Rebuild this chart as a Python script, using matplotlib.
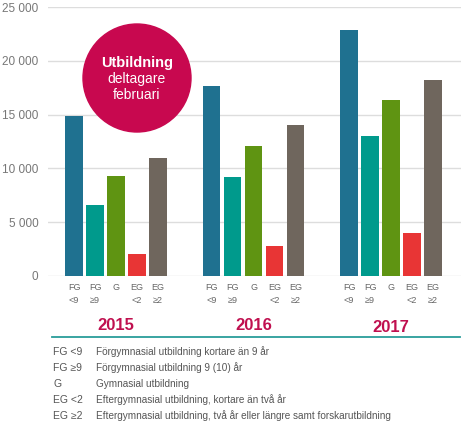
import numpy as np
import matplotlib
matplotlib.use("Agg")
import matplotlib.pyplot as plt
from matplotlib.patches import Ellipse
from matplotlib.lines import Line2D
from matplotlib.transforms import blended_transform_factory

plt.rcParams['font.family'] = ['Liberation Sans', 'DejaVu Sans']

years = ["2015", "2016", "2017"]
categories = ["FG <9", "FG ≥9", "G", "EG <2", "EG ≥2"]
tick_labels = ["FG\n<9", "FG\n≥9", "G\n", "EG\n<2", "EG\n≥2"]
descriptions = [
    "Förgymnasial utbildning kortare än 9 år",
    "Förgymnasial utbildning 9 (10) år",
    "Gymnasial utbildning",
    "Eftergymnasial utbildning, kortare än två år",
    "Eftergymnasial utbildning, två år eller längre samt forskarutbildning",
]
values_2015 = [14900, 6600, 9300, 2000, 10950]
values_2016 = [17650, 9200, 12050, 2750, 14000]
values_2017 = [22850, 13000, 16350, 4000, 18200]
colors = ["#1f7190", "#009a8c", "#5f9412", "#e83535", "#6f665d"]

W, H = 463, 425
fig = plt.figure(figsize=(W / 100, H / 100), dpi=100)
ax = fig.add_axes([48 / W, (H - 276) / H, (461 - 48) / W, (276 - 7) / H])

group_gap = 6.55
xs_all, labels_all = [], []
for gi, vals in enumerate([values_2015, values_2016, values_2017]):
    xs = gi * group_gap + np.arange(5) - 2
    ax.bar(xs, vals, width=0.84, color=colors, zorder=3)
    xs_all.extend(xs)
    labels_all.extend(tick_labels)

ax.set_xlim(-3.24, 16.43)
ax.set_ylim(0, 25000)
ax.set_yticks(np.arange(0, 25001, 5000))
ax.set_yticklabels([f"{v:,}".replace(",", " ") for v in range(0, 25001, 5000)],
                   fontsize=8.5, color="#777777")
ax.set_xticks(xs_all)
ax.set_xticklabels(labels_all, fontsize=6.5, color="#666666", linespacing=1.6)
ax.tick_params(axis="both", length=0)
ax.tick_params(axis="y", pad=7)
ax.tick_params(axis="x", pad=5)
ax.grid(axis="y", color="#dddddd", linewidth=1, zorder=0)
for s in ax.spines.values():
    s.set_visible(False)

# year labels
tr = blended_transform_factory(ax.transData, fig.transFigure)
for gi, y in enumerate(years):
    ypix = 327 if gi == 2 else 325
    ax.text(gi * group_gap, 1 - ypix / H, y, transform=tr, ha="center", va="center",
            fontsize=12, fontweight="bold", color="#c0104f")

# separator line
fig.add_artist(Line2D([52 / W, 460 / W], [1 - 337 / H, 1 - 337 / H],
                      color="#2a9d9a", linewidth=1.3))

# legend rows
row_y = [352, 368, 384, 400, 416]
for ab, desc, y in zip(categories, descriptions, row_y):
    fig.text(53 / W, 1 - y / H, ab, fontsize=7.5, color="#555555", va="center")
    fig.text(96 / W, 1 - y / H, desc, fontsize=7.2, color="#555555", va="center")

# circle badge
cx, cy, r = 137, 78, 54
fig.add_artist(Ellipse((cx / W, 1 - cy / H), 2 * r / W, 2 * r / H,
                       transform=fig.transFigure, color="#c8084f", zorder=5))
fig.text(cx / W, 1 - 63 / H, "Utbildning", ha="center", va="center", fontsize=10.5,
         fontweight="bold", color="white", zorder=6)
fig.text(cx / W, 1 - 79 / H, "deltagare", ha="center", va="center", fontsize=10,
         color="white", zorder=6)
fig.text(cx / W, 1 - 95 / H, "februari", ha="center", va="center", fontsize=10,
         color="white", zorder=6)

fig.savefig("out.png", dpi=100)
